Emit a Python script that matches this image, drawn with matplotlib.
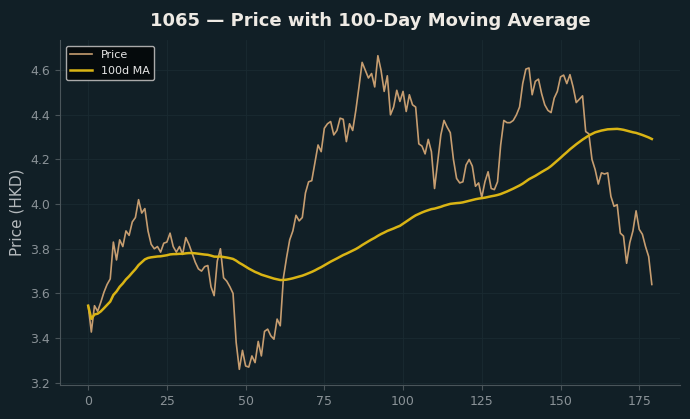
import numpy as np
import pandas as pd
import matplotlib
matplotlib.use('Agg')
import matplotlib.pyplot as plt

# daily closing price
price = [
    3.545, 3.427, 3.545, 3.52, 3.56, 3.605, 3.64, 3.665, 3.83, 3.75,
    3.84, 3.81, 3.88, 3.86, 3.92, 3.94, 4.02, 3.96, 3.98, 3.88,
    3.82, 3.80, 3.81, 3.785, 3.825, 3.83, 3.87, 3.81, 3.785, 3.81,
    3.775, 3.85, 3.82, 3.78, 3.74, 3.71, 3.70, 3.72, 3.725, 3.63,
    3.59, 3.745, 3.80, 3.67, 3.655, 3.63, 3.60, 3.38, 3.26, 3.345,
    3.275, 3.27, 3.32, 3.29, 3.385, 3.32, 3.43, 3.44, 3.41, 3.395,
    3.485, 3.455, 3.67, 3.76, 3.84, 3.88, 3.95, 3.925, 3.94, 4.05,
    4.10, 4.105, 4.185, 4.265, 4.235, 4.34, 4.36, 4.37, 4.31, 4.33,
    4.385, 4.38, 4.28, 4.36, 4.33, 4.42, 4.525, 4.635, 4.60, 4.565,
    4.585, 4.525, 4.665, 4.60, 4.505, 4.575, 4.40, 4.435, 4.51, 4.46,
    4.505, 4.415, 4.49, 4.445, 4.435, 4.27, 4.26, 4.225, 4.29, 4.235,
    4.07, 4.19, 4.31, 4.375, 4.345, 4.32, 4.20, 4.115, 4.095, 4.10,
    4.175, 4.20, 4.17, 4.08, 4.095, 4.03, 4.10, 4.145, 4.07, 4.065,
    4.10, 4.265, 4.375, 4.365, 4.365, 4.375, 4.40, 4.435, 4.54, 4.605,
    4.61, 4.49, 4.55, 4.56, 4.495, 4.445, 4.42, 4.41, 4.475, 4.505,
    4.57, 4.578, 4.54, 4.58, 4.525, 4.455, 4.47, 4.485, 4.325, 4.315,
    4.20, 4.155, 4.09, 4.14, 4.135, 4.14, 4.035, 3.99, 3.998, 3.87,
    3.857, 3.735, 3.827, 3.88, 3.97, 3.887, 3.865, 3.81, 3.765, 3.64,
]
days = np.arange(len(price))
ma = pd.Series(price).rolling(100, min_periods=1).mean()

bg = '#111f26'
fig, ax = plt.subplots(figsize=(6.9, 4.19), dpi=100)
fig.patch.set_facecolor(bg)
ax.set_facecolor(bg)
fig.subplots_adjust(left=60/690, right=680/690, top=1-40/419, bottom=1-385/419)

ax.plot(days, price, color='#c69d70', linewidth=1.2, label='Price')
ax.plot(days, ma, color='#d9b414', linewidth=1.8, label='100d MA')

ax.set_xticks([0, 25, 50, 75, 100, 125, 150, 175])
ax.set_yticks([3.2, 3.4, 3.6, 3.8, 4.0, 4.2, 4.4, 4.6])
ax.grid(True, color='#1a2a31', linewidth=0.6)
ax.set_axisbelow(True)

# spines
for key in ['top', 'right']:
    ax.spines[key].set_visible(False)
for key in ['left', 'bottom']:
    ax.spines[key].set_color('#4a555a')
ax.tick_params(colors='#4a555a', labelcolor='#8a9297', labelsize=9)

ax.set_ylabel('Price (HKD)', color='#b5babd', fontsize=11)
ax.set_title('1065 — Price with 100-Day Moving Average', color='#eeeae4',
             fontsize=13, fontweight='bold', pad=10)

leg = ax.legend(loc='upper left', fontsize=8, facecolor='#050a0c',
                edgecolor='#aaaaaa', framealpha=1, labelcolor='#e6e6e6')
leg.get_frame().set_linewidth(1)

fig.savefig('out.png', dpi=100, facecolor=bg)
